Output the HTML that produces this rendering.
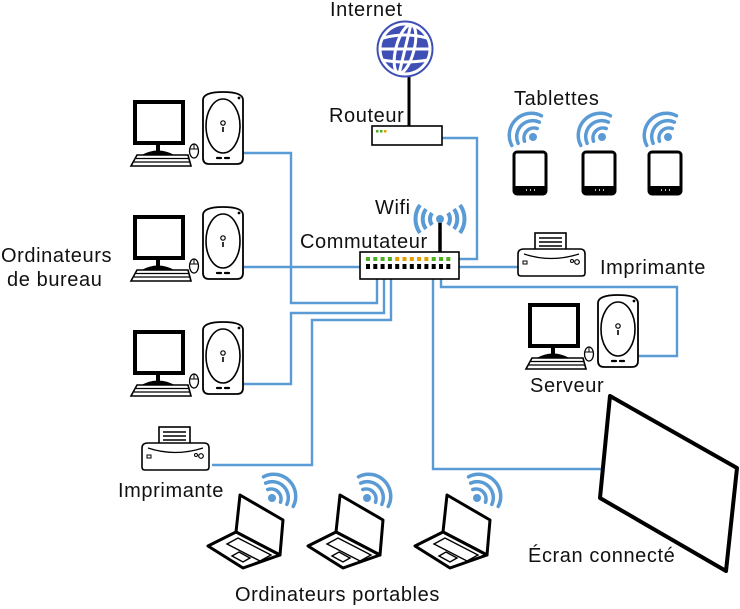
<!DOCTYPE html>
<html><head><meta charset="utf-8"><style>
html,body{margin:0;padding:0;background:#fff;}
svg{display:block;}
text{font-family:"Liberation Sans",sans-serif;font-size:20px;letter-spacing:0.6px;fill:#111;}
</style></head><body>
<svg width="740" height="609" viewBox="0 0 740 609" xmlns="http://www.w3.org/2000/svg">
<defs>
<g id="desk">
  <rect x="2" y="10" width="48" height="41" fill="#fff" stroke="#000" stroke-width="4"/>
  <path d="M25 51 V60 M9 65 Q25 56 41 65" stroke="#000" stroke-width="4" fill="none"/>
  <path d="M4 63 H55 L58 74 H-2 Z" fill="#fff" stroke="#000" stroke-width="1.6"/>
  <path d="M3 66.5 H56 M1 70 H57" stroke="#000" stroke-width="1.2"/>
  <ellipse cx="61" cy="59" rx="4.5" ry="7" fill="#fff" stroke="#000" stroke-width="1.3"/>
  <path d="M56.5 57 H65.5 M61 52 V57" stroke="#000" stroke-width="1"/>
  <path d="M70 8 Q70 0 90 0 Q110 0 110 8 V66 Q110 72 104 72 H76 Q70 72 70 66 Z" fill="#fff" stroke="#000" stroke-width="1.8"/>
  <ellipse cx="90" cy="34" rx="17" ry="27" fill="none" stroke="#000" stroke-width="1.6"/>
  <circle cx="106" cy="6" r="1.4" fill="#000"/>
  <circle cx="90" cy="31" r="2.2" fill="none" stroke="#000" stroke-width="1.2"/>
  <path d="M90 35 V40" stroke="#000" stroke-width="1.6"/>
  <path d="M84 66 H88 M92 66 H96" stroke="#000" stroke-width="2.2" stroke-linecap="round"/>
</g>
<g id="printer">
  <rect x="17" y="0" width="31" height="22" fill="#fff" stroke="#000" stroke-width="1.6"/>
  <path d="M21 5 H44 M21 9 H44 M21 13 H44 M21 17 H44" stroke="#000" stroke-width="1.4"/>
  <path d="M6 16 H62 Q67 16 67 21 V40 Q67 43 64 43 H3 Q0 43 0 40 V21 Q0 16 6 16 Z" fill="#fff" stroke="#000" stroke-width="1.6"/>
  <path d="M6 21 Q33 30 61 21" stroke="#000" stroke-width="1.3" fill="none"/>
  <rect x="5" y="28" width="4" height="3" fill="none" stroke="#000" stroke-width="1"/>
  <circle cx="54" cy="28" r="1.5" fill="none" stroke="#000" stroke-width="1"/>
  <circle cx="59" cy="29" r="2.3" fill="none" stroke="#000" stroke-width="1.2"/>
</g>
<g id="laptop">
  <path d="M35 25 L78 50 L75 85 L31 62 Z" fill="#fff" stroke="#000" stroke-width="3" stroke-linejoin="round"/>
  <path d="M31 62 L3 76 L38 98 L75 85 Z" fill="#fff" stroke="#000" stroke-width="3" stroke-linejoin="round"/>
  <path d="M22 74 L33 68 L66 85 L55 91 Z" fill="none" stroke="#000" stroke-width="1.4"/>
  <path d="M27 86 L34 82 L45 88 L38 92 Z" fill="none" stroke="#000" stroke-width="1.4"/>
</g>
<g id="tablet">
  <rect x="0" y="0" width="32" height="42" rx="3" fill="#fff" stroke="#000" stroke-width="3"/>
  <rect x="0" y="34" width="32" height="8" rx="2" fill="#000"/>
  <path d="M12 38 H13 M16 38 H17 M20 38 H21" stroke="#fff" stroke-width="1.6"/>
</g>
<g id="wifiR">
  <circle cx="0" cy="0" r="4" fill="#5b9bd5"/>
  <path d="M3 -9 A10 10 0 0 1 3 9 M6 -15 A16 16 0 0 1 6 15 M9 -21 A22 22 0 0 1 9 21" stroke="#5b9bd5" stroke-width="3.5" fill="none" stroke-linecap="round"/>
</g>
</defs>

<g stroke="#5b9bd5" stroke-width="2.4" fill="none">
  <path d="M442 138 H477 V259 H459"/>
  <path d="M243 153 H291 V303 H377 V267"/>
  <path d="M243 267 H367"/>
  <path d="M243 384 H291 V313 H384 V267"/>
  <path d="M212 465 H312 V320 H391 V267"/>
  <path d="M433 267 V469 H602"/>
  <path d="M441 267 V287 H677 V356 H637"/>
  <path d="M520 267 H449"/>
</g>

<text x="330" y="16">Internet</text>
<line x1="409" y1="70" x2="409" y2="126" stroke="#000" stroke-width="3"/>
<circle cx="405" cy="49" r="28" fill="#3f4fb5" stroke="#3f4fb5"/>
<g stroke="#fff" stroke-width="3" fill="none">
  <circle cx="405" cy="49" r="25"/>
  <ellipse cx="405" cy="49" rx="9" ry="25" transform="rotate(15 405 49)"/>
  <line x1="411" y1="24" x2="399" y2="74"/>
  <path d="M383 38 Q405 32 427 38 M382 60 Q405 64 428 60"/>
  <line x1="380" y1="49" x2="430" y2="49"/>
</g>
<text x="329" y="122">Routeur</text>
<rect x="372" y="126" width="70" height="19" fill="#fff" stroke="#000" stroke-width="1.6"/>
<rect x="376" y="130" width="2.5" height="2.5" fill="#4caf20"/><rect x="380" y="130" width="2.5" height="2.5" fill="#4caf20"/><rect x="384" y="130" width="2.5" height="2.5" fill="#e0a000"/>

<text x="375" y="214">Wifi</text>
<text x="300" y="248">Commutateur</text>
<line x1="440" y1="222" x2="440" y2="252" stroke="#000" stroke-width="3.5"/>
<g transform="translate(440,219)">
  <circle r="4" fill="#5b9bd5"/>
  <g stroke="#5b9bd5" stroke-width="4" fill="none">
    <path d="M-8 -6 A10 10 0 0 0 -8 6 M8 -6 A10 10 0 0 1 8 6"/>
    <path d="M-14 -10 A17 17 0 0 0 -14 10 M14 -10 A17 17 0 0 1 14 10"/>
    <path d="M-20 -14 A24 24 0 0 0 -20 14 M20 -14 A24 24 0 0 1 20 14"/>
  </g>
</g>
<rect x="360" y="252" width="99" height="27" fill="#fff" stroke="#000" stroke-width="1.6"/>
<g>
<rect x="366" y="257" width="4" height="4" fill="#4caf20"/><rect x="373.3" y="257" width="4" height="4" fill="#4caf20"/><rect x="380.6" y="257" width="4" height="4" fill="#4caf20"/><rect x="387.9" y="257" width="4" height="4" fill="#4caf20"/>
<rect x="395.2" y="257" width="4" height="4" fill="#e0a000"/><rect x="402.5" y="257" width="4" height="4" fill="#e0a000"/><rect x="409.8" y="257" width="4" height="4" fill="#e0a000"/><rect x="417.1" y="257" width="4" height="4" fill="#e0a000"/><rect x="424.4" y="257" width="4" height="4" fill="#e0a000"/>
<rect x="431.7" y="257" width="4" height="4" fill="#4caf20"/><rect x="439" y="257" width="4" height="4" fill="#4caf20"/><rect x="446.3" y="257" width="4" height="4" fill="#4caf20"/>
</g>
<g fill="#000">
<rect x="366" y="264" width="4" height="5"/><rect x="373.3" y="264" width="4" height="5"/><rect x="380.6" y="264" width="4" height="5"/><rect x="387.9" y="264" width="4" height="5"/><rect x="395.2" y="264" width="4" height="5"/><rect x="402.5" y="264" width="4" height="5"/><rect x="409.8" y="264" width="4" height="5"/><rect x="417.1" y="264" width="4" height="5"/><rect x="424.4" y="264" width="4" height="5"/><rect x="431.7" y="264" width="4" height="5"/><rect x="439" y="264" width="4" height="5"/><rect x="446.3" y="264" width="4" height="5"/>
</g>

<use href="#desk" x="133" y="92"/>
<use href="#desk" x="133" y="207"/>
<use href="#desk" x="133" y="322"/>
<text x="1" y="262">Ordinateurs</text>
<text x="7" y="286">de bureau</text>

<use href="#desk" x="528" y="295"/>
<text x="530" y="392">Serveur</text>

<use href="#printer" x="518" y="233"/>
<text x="600" y="274">Imprimante</text>
<use href="#printer" x="142" y="427"/>
<text x="118" y="497">Imprimante</text>

<text x="514" y="105">Tablettes</text>
<use href="#tablet" x="514" y="152"/>
<use href="#tablet" x="583" y="152"/>
<use href="#tablet" x="649" y="152"/>
<g transform="translate(533,137) scale(-1,1)"><use href="#wifiR" transform="rotate(-45)"/></g>
<g transform="translate(602,137) scale(-1,1)"><use href="#wifiR" transform="rotate(-45)"/></g>
<g transform="translate(668,137) scale(-1,1)"><use href="#wifiR" transform="rotate(-45)"/></g>

<path d="M610 396 L737 468 L726 571 L600 498 Z" fill="#fff" stroke="#000" stroke-width="4" stroke-linejoin="round"/>
<text x="528" y="562">Écran connecté</text>

<use href="#laptop" x="205" y="470"/>
<use href="#laptop" x="305" y="470"/>
<use href="#laptop" x="412" y="470"/>
<g transform="translate(272,498)"><use href="#wifiR" transform="rotate(-45)"/></g>
<g transform="translate(367,498)"><use href="#wifiR" transform="rotate(-45)"/></g>
<g transform="translate(477,498)"><use href="#wifiR" transform="rotate(-45)"/></g>
<text x="235" y="601">Ordinateurs portables</text>
</svg>
</body></html>
